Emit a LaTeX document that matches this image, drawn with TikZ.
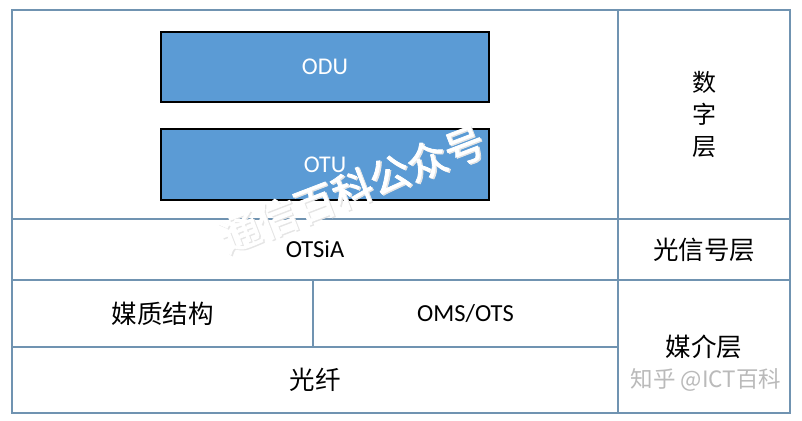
\documentclass[tikz,border=0pt]{standalone}
\usepackage{fontspec}
\setmainfont{Carlito}
\newfontfamily\cjk{Noto Sans CJK SC}
\newfontfamily\cjkb[FakeBold=2]{Noto Sans CJK SC}
\definecolor{tline}{RGB}{112,147,177}
\definecolor{boxfill}{RGB}{91,155,213}
\begin{document}
\begin{tikzpicture}[x=1pt,y=-1pt,
  cell/.style={draw=tline,line width=2pt,rectangle,inner sep=0pt,outer sep=0pt,text=black},
  layerbox/.style={draw=black,line width=2.5pt,fill=boxfill,rectangle,inner sep=0pt,outer sep=0pt,
    minimum width=328pt,text=white,font=\fontsize{24}{28}\selectfont},
  lat/.style={font=\fontsize{24.5}{28}\selectfont},
  zh/.style={font=\cjk\fontsize{25.5}{34}\selectfont}]
\useasboundingbox (0,0) rectangle (802,420);
\fill[white] (0,0) rectangle (802,420);
% table cells
\node[cell,minimum width=606pt,minimum height=209pt] (dig) at (315,114.5) {};
\node[cell,zh,minimum width=172pt,minimum height=209pt,align=center,font=\cjk\fontsize{24}{32}\selectfont] (szc) at (704,114.5) {数\\字\\层};
\node[cell,lat,minimum width=606pt,minimum height=61pt] (otsia) at (315,249.5) {OTSiA};
\node[cell,zh,minimum width=172pt,minimum height=61pt] (gxh) at (704,249.5) {光信号层};
\node[cell,zh,minimum width=301pt,minimum height=67pt] (mzjg) at (162.5,313.5) {媒质结构};
\node[cell,lat,minimum width=305pt,minimum height=67pt] (oms) at (465.5,313.5) {OMS/OTS};
\node[cell,zh,minimum width=606pt,minimum height=66pt] (gx) at (315,380) {光纤};
\node[cell,zh,minimum width=172pt,minimum height=133pt] (mjc) at (704,346.5) {媒介层};
% layer boxes
\node[layerbox,minimum height=70pt] (odu) at (325,67) {ODU};
\node[layerbox,minimum height=71pt] (otu) at (325,164.5) {OTU};
% watermarks
\node[rotate=21,text=black!10,font=\cjkb\fontsize{40}{40}\selectfont] (wm0) at (353.5,190) {通信百科公众号};
\node[rotate=21,text=white,font=\cjkb\fontsize{40}{40}\selectfont] (wm) at (352,189) {通信百科公众号};
\node[text=black!27,font=\cjk\fontsize{22.5}{26}\selectfont] (zh2) at (706,380) {知乎 @ICT百科};
\end{tikzpicture}
\end{document}
